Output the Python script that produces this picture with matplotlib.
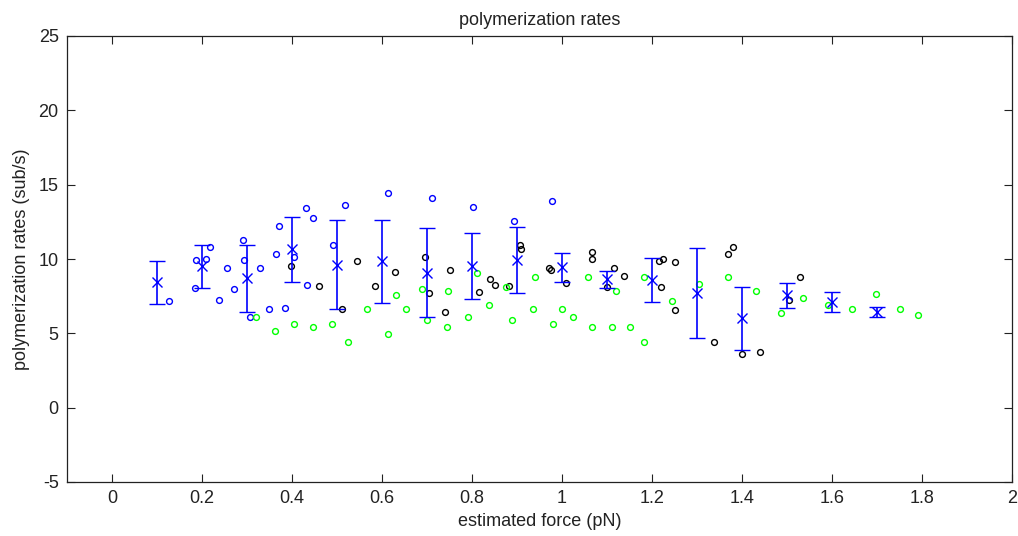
import matplotlib
matplotlib.use("Agg")
import matplotlib.pyplot as plt
from matplotlib import font_manager

# Binned means with standard deviation
bin_force = [0.1, 0.2, 0.3, 0.4, 0.5, 0.6, 0.7, 0.8, 0.9, 1.0, 1.1, 1.2, 1.3, 1.4, 1.5, 1.6, 1.7]
bin_mean = [8.42, 9.50, 8.69, 10.64, 9.62, 9.85, 9.07, 9.55, 9.92, 9.43, 8.63, 8.58, 7.71, 6.00, 7.55, 7.12, 6.44]
bin_std = [1.43, 1.45, 2.26, 2.21, 3.01, 2.78, 3.00, 2.22, 2.21, 1.00, 0.58, 1.50, 3.01, 2.11, 0.86, 0.68, 0.33]

# Individual measurements, three data sets
blue_force = [0.126, 0.218, 0.187, 0.208, 0.185, 0.255, 0.270, 0.238, 0.292, 0.293, 0.328, 0.306, 0.348,
              0.384, 0.370, 0.365, 0.404, 0.432, 0.434, 0.447, 0.491, 0.517, 0.613, 0.710, 0.803, 0.893, 0.977]
blue_rate = [7.17, 10.79, 9.93, 10.00, 8.03, 9.37, 7.96, 7.24, 11.28, 9.93, 9.37, 6.12, 6.61,
             6.70, 12.22, 10.34, 10.16, 13.41, 8.27, 12.78, 10.96, 13.66, 14.44, 14.13, 13.50, 12.56, 13.88]

black_force = [0.398, 0.461, 0.511, 0.545, 0.629, 0.584, 0.696, 0.705, 0.741, 0.750, 0.815, 0.840, 0.851,
               0.882, 0.907, 0.908, 0.972, 0.975, 1.009, 1.067, 1.067, 1.115, 1.101, 1.138, 1.216, 1.224,
               1.219, 1.252, 1.252, 1.337, 1.368, 1.379, 1.399, 1.441, 1.528, 1.504]
black_rate = [9.53, 8.18, 6.61, 9.87, 9.15, 8.18, 10.16, 7.71, 6.43, 9.24, 7.80, 8.67, 8.27,
              8.18, 10.96, 10.65, 9.42, 9.24, 8.36, 10.49, 10.02, 9.39, 8.09, 8.83, 9.84, 10.02,
              8.11, 9.78, 6.54, 4.45, 10.34, 10.81, 3.60, 3.76, 8.81, 7.24]

green_force = [0.321, 0.362, 0.404, 0.447, 0.489, 0.525, 0.567, 0.613, 0.632, 0.654, 0.688, 0.701, 0.747,
               0.744, 0.812, 0.790, 0.837, 0.876, 0.888, 0.941, 0.935, 1.000, 0.980, 1.025, 1.058, 1.067,
               1.110, 1.152, 1.121, 1.183, 1.183, 1.244, 1.304, 1.368, 1.430, 1.486, 1.536, 1.590,
               1.644, 1.697, 1.750, 1.792]
green_rate = [6.12, 5.17, 5.64, 5.42, 5.64, 4.45, 6.61, 4.95, 7.55, 6.61, 7.96, 5.87, 7.87,
              5.42, 9.06, 6.12, 6.92, 8.11, 5.89, 8.81, 6.61, 6.61, 5.64, 6.12, 8.81, 5.42,
              5.42, 5.42, 7.87, 8.81, 4.39, 7.17, 8.34, 8.81, 7.87, 6.36, 7.39, 6.92,
              6.61, 7.62, 6.61, 6.21]

x_ticks = [0, 0.2, 0.4, 0.6, 0.8, 1, 1.2, 1.4, 1.6, 1.8, 2]
y_ticks = [-5, 0, 5, 10, 15, 20, 25]

available = {f.name for f in font_manager.fontManager.ttflist}
family = "Liberation Sans Narrow" if "Liberation Sans Narrow" in available else "Liberation Sans"
plt.rcParams["font.family"] = [family, "DejaVu Sans"]

fig = plt.figure(figsize=(10.18, 5.36), dpi=100)
ax = fig.add_axes([67 / 1018, 54 / 536, 945 / 1018, 446 / 536])

ms = 4.2
ax.plot(blue_force, blue_rate, "o", mfc="none", mec=(0, 0, 1), ms=ms, mew=1.0, ls="none")
ax.plot(black_force, black_rate, "o", mfc="none", mec="black", ms=ms, mew=1.0, ls="none")
ax.plot(green_force, green_rate, "o", mfc="none", mec=(0, 1, 0), ms=ms, mew=1.0, ls="none")

ax.errorbar(bin_force, bin_mean, yerr=bin_std, fmt="x", color=(0, 0, 1), ms=7, mew=1.0,
            elinewidth=1.2, capsize=5.8, capthick=1.2)

ax.set_xlim(-0.1, 2.0)
ax.set_ylim(-5, 25)
ax.set_xticks(x_ticks)
ax.set_xticklabels([f"{t:g}" for t in x_ticks])
ax.set_yticks(y_ticks)
ax.set_yticklabels([str(t) for t in y_ticks])
ax.tick_params(direction="in", length=6, width=0.8, top=True, right=True, labelsize=13,
               colors="#222222", pad=6)
for s in ax.spines.values():
    s.set_linewidth(0.9)
    s.set_color("#222222")

ax.set_title("polymerization rates", fontsize=13, pad=8, color="#222222")
ax.set_xlabel("estimated force (pN)", fontsize=13, labelpad=4, color="#222222")
ax.set_ylabel("polymerization rates (sub/s)", fontsize=13, labelpad=6, color="#222222")

fig.savefig("out.png", dpi=100, facecolor="white")
